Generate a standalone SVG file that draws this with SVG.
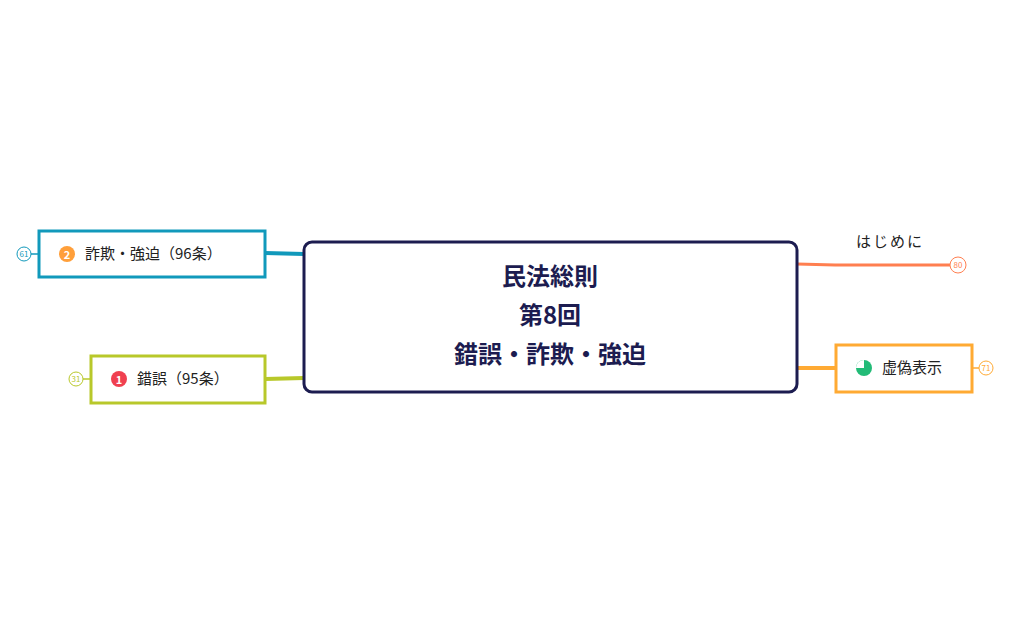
<svg xmlns="http://www.w3.org/2000/svg" width="1010" height="625" viewBox="0 0 1010 625">
<style>
text{font-family:"Noto Sans CJK JP","Noto Sans",sans-serif;}
.t{font-size:15px;fill:#222;}
.n{font-size:8px;}
</style>
<rect width="1010" height="625" fill="#fff"/>
<g id="connectors" fill="none">
<path d="M304 254 L265 253" stroke="#1199bb" stroke-width="4"/>
<path d="M304 378 L265 379" stroke="#b8c82a" stroke-width="4"/>
<path d="M797 264 L835 265 L950 265" stroke="#ff7f50" stroke-width="3"/>
<path d="M797 368 L836 368" stroke="#ffaa33" stroke-width="4"/>
<path d="M31 254 L39 254" stroke="#1199bb" stroke-width="1.5"/>
<path d="M83 379 L91 379" stroke="#b8c82a" stroke-width="1.5"/>
<path d="M972 368 L979 368" stroke="#ffaa33" stroke-width="1.5"/>
</g>
<g id="center">
<rect x="304" y="242" width="493" height="150" rx="8" fill="#fff" stroke="#1c1c50" stroke-width="3"/>
<text x="550" y="285" text-anchor="middle" font-size="24" font-weight="bold" fill="#1c1c50">民法総則</text>
<text x="550" y="324" text-anchor="middle" font-size="24" font-weight="bold" fill="#1c1c50">第8回</text>
<text x="550" y="363" text-anchor="middle" font-size="24" font-weight="bold" fill="#1c1c50">錯誤・詐欺・強迫</text>
</g>
<g id="n2">
<rect x="39" y="231" width="226" height="46" fill="#fff" stroke="#1199bb" stroke-width="3"/>
<circle cx="67" cy="254" r="8" fill="#ff9f3a"/>
<text x="67" y="258.5" text-anchor="middle" font-size="11" font-weight="bold" fill="#fff">2</text>
<text x="85" y="259" class="t">詐欺・強迫（96条）</text>
<circle cx="24" cy="254" r="7" fill="#fff" stroke="#1199bb"/>
<text x="24" y="257" text-anchor="middle" class="n" fill="#1199bb">61</text>
</g>
<g id="n1">
<rect x="91" y="356" width="174" height="47" fill="#fff" stroke="#b8c82a" stroke-width="3"/>
<circle cx="119" cy="379" r="8" fill="#f04050"/>
<text x="119" y="383.5" text-anchor="middle" font-size="11" font-weight="bold" fill="#fff">1</text>
<text x="137" y="384" class="t">錯誤（95条）</text>
<circle cx="76" cy="379" r="7" fill="#fff" stroke="#b8c82a"/>
<text x="76" y="382" text-anchor="middle" class="n" fill="#b8c82a">31</text>
</g>
<g id="n3">
<text x="856" y="247" class="t" letter-spacing="2">はじめに</text>
<circle cx="958" cy="265" r="8" fill="#fff" stroke="#ff7f50"/>
<text x="958" y="268" text-anchor="middle" class="n" fill="#ff7f50">80</text>
</g>
<g id="n4">
<rect x="836" y="345" width="136" height="47" fill="#fff" stroke="#ffaa33" stroke-width="3"/>
<circle cx="864" cy="368" r="8" fill="#22bb77"/>
<path d="M864 368 L856 368 A8 8 0 0 1 864 360 Z" fill="#fff"/>
<text x="882" y="373" class="t">虚偽表示</text>
<circle cx="986" cy="368" r="7" fill="#fff" stroke="#ffaa33"/>
<text x="986" y="371" text-anchor="middle" class="n" fill="#ffaa33">71</text>
</g>
</svg>
